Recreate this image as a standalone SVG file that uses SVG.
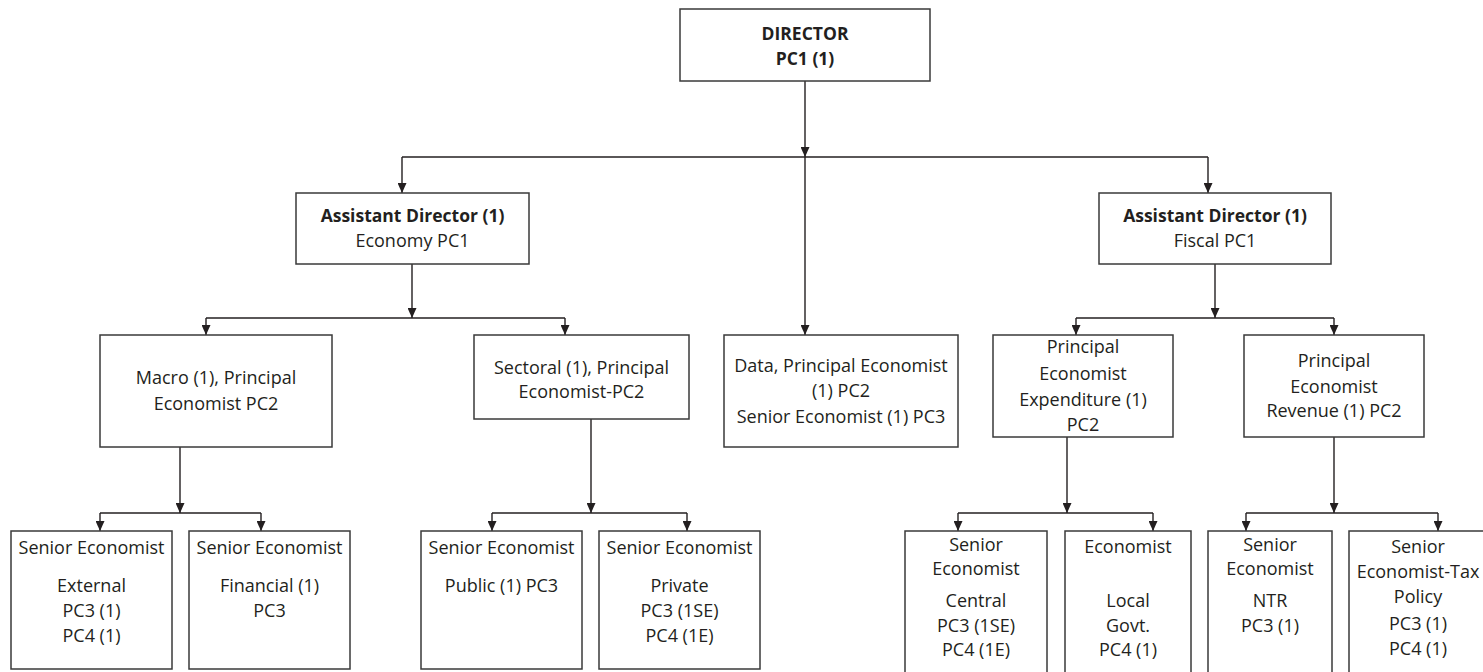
<svg xmlns="http://www.w3.org/2000/svg" width="1483" height="672" viewBox="0 0 1483 672">
<defs>
<marker id="ah" viewBox="0 0 10 10" refX="10" refY="5" markerWidth="10" markerHeight="9" markerUnits="userSpaceOnUse" orient="auto" preserveAspectRatio="none">
<path d="M0,0 L10,5 L0,10 z" fill="#231f20"/>
</marker>
<style>
.box{fill:#ffffff;stroke:#3a3a3a;stroke-width:1.5}
.ln{fill:none;stroke:#231f20;stroke-width:1.4}
.arr{fill:none;stroke:#231f20;stroke-width:1.4;marker-end:url(#ah)}
text{font-family:"Open Sans","Liberation Sans",sans-serif;font-size:18px;fill:#231f20;text-anchor:middle}
.b{font-weight:bold;font-size:17.5px}
</style>
</defs>
<rect width="1483" height="672" fill="#ffffff"/>
<g id="connectors">
<path class="arr" d="M805 81 V157"/>
<path class="ln" d="M402 157 H1208"/>
<path class="arr" d="M402 157 V193"/>
<path class="arr" d="M1208 157 V193"/>
<path class="arr" d="M805 157 V335"/>
<path class="arr" d="M412 264 V318"/>
<path class="ln" d="M206 318 H565"/>
<path class="arr" d="M206 318 V335"/>
<path class="arr" d="M565 318 V335"/>
<path class="arr" d="M1215 264 V318"/>
<path class="ln" d="M1076 318 H1334"/>
<path class="arr" d="M1076 318 V335"/>
<path class="arr" d="M1334 318 V335"/>
<path class="arr" d="M180 447 V513"/>
<path class="ln" d="M100 513 H261"/>
<path class="arr" d="M100 513 V531"/>
<path class="arr" d="M261 513 V531"/>
<path class="arr" d="M591 419 V513"/>
<path class="ln" d="M492 513 H687"/>
<path class="arr" d="M492 513 V531"/>
<path class="arr" d="M687 513 V531"/>
<path class="arr" d="M1067 437 V513"/>
<path class="ln" d="M958 513 H1153"/>
<path class="arr" d="M958 513 V531"/>
<path class="arr" d="M1153 513 V531"/>
<path class="arr" d="M1334 437 V513"/>
<path class="ln" d="M1246 513 H1438"/>
<path class="arr" d="M1246 513 V531"/>
<path class="arr" d="M1438 513 V531"/>
</g>
<g id="director">
<rect class="box" x="680" y="9" width="250" height="72"/>
<text class="b" x="805" y="39.5">DIRECTOR</text>
<text class="b" x="805" y="65">PC1 (1)</text>
</g>
<g id="ad-economy">
<rect class="box" x="296" y="193" width="233" height="71"/>
<text class="b" x="412.5" y="222">Assistant Director (1)</text>
<text x="412.5" y="247">Economy PC1</text>
</g>
<g id="ad-fiscal">
<rect class="box" x="1099" y="193" width="232" height="71"/>
<text class="b" x="1215" y="222">Assistant Director (1)</text>
<text x="1215" y="247">Fiscal PC1</text>
</g>
<g id="macro">
<rect class="box" x="100" y="335" width="232" height="112"/>
<text x="216" y="384">Macro (1), Principal</text>
<text x="216" y="410">Economist PC2</text>
</g>
<g id="sectoral">
<rect class="box" x="474" y="335" width="215" height="84"/>
<text x="581.5" y="374">Sectoral (1), Principal</text>
<text x="581.5" y="397.5">Economist-PC2</text>
</g>
<g id="data">
<rect class="box" x="724" y="335" width="234" height="112"/>
<text x="841" y="371.5">Data, Principal Economist</text>
<text x="841" y="396.5">(1) PC2</text>
<text x="841" y="422.5">Senior Economist (1) PC3</text>
</g>
<g id="expenditure">
<rect class="box" x="993" y="335" width="180" height="102"/>
<text x="1083" y="353">Principal</text>
<text x="1083" y="380">Economist</text>
<text x="1083" y="406">Expenditure (1)</text>
<text x="1083" y="431">PC2</text>
</g>
<g id="revenue">
<rect class="box" x="1244" y="335" width="180" height="102"/>
<text x="1334" y="367">Principal</text>
<text x="1334" y="393">Economist</text>
<text x="1334" y="417">Revenue (1) PC2</text>
</g>
<g id="external">
<rect class="box" x="11" y="531" width="161" height="138"/>
<text x="91.5" y="554">Senior Economist</text>
<text x="91.5" y="592">External</text>
<text x="91.5" y="617">PC3 (1)</text>
<text x="91.5" y="642">PC4 (1)</text>
</g>
<g id="financial">
<rect class="box" x="189" y="531" width="161" height="138"/>
<text x="269.5" y="554">Senior Economist</text>
<text x="269.5" y="592">Financial (1)</text>
<text x="269.5" y="617">PC3</text>
</g>
<g id="public">
<rect class="box" x="421" y="531" width="161" height="138"/>
<text x="501.5" y="554">Senior Economist</text>
<text x="501.5" y="592">Public (1) PC3</text>
</g>
<g id="private">
<rect class="box" x="599" y="531" width="161" height="138"/>
<text x="679.5" y="554">Senior Economist</text>
<text x="679.5" y="592">Private</text>
<text x="679.5" y="617">PC3 (1SE)</text>
<text x="679.5" y="642">PC4 (1E)</text>
</g>
<g id="central">
<rect class="box" x="905" y="531" width="142" height="150"/>
<text x="976" y="551">Senior</text>
<text x="976" y="575">Economist</text>
<text x="976" y="607">Central</text>
<text x="976" y="632">PC3 (1SE)</text>
<text x="976" y="656">PC4 (1E)</text>
</g>
<g id="local">
<rect class="box" x="1065" y="531" width="126" height="150"/>
<text x="1128" y="553">Economist</text>
<text x="1128" y="607">Local</text>
<text x="1128" y="632">Govt.</text>
<text x="1128" y="656">PC4 (1)</text>
</g>
<g id="ntr">
<rect class="box" x="1208" y="531" width="124" height="150"/>
<text x="1270" y="551">Senior</text>
<text x="1270" y="575">Economist</text>
<text x="1270" y="607">NTR</text>
<text x="1270" y="632">PC3 (1)</text>
</g>
<g id="taxpolicy">
<rect class="box" x="1349" y="531" width="138" height="150"/>
<text x="1418" y="553">Senior</text>
<text x="1418" y="578">Economist-Tax</text>
<text x="1418" y="603">Policy</text>
<text x="1418" y="630">PC3 (1)</text>
<text x="1418" y="655">PC4 (1)</text>
</g>
</svg>
